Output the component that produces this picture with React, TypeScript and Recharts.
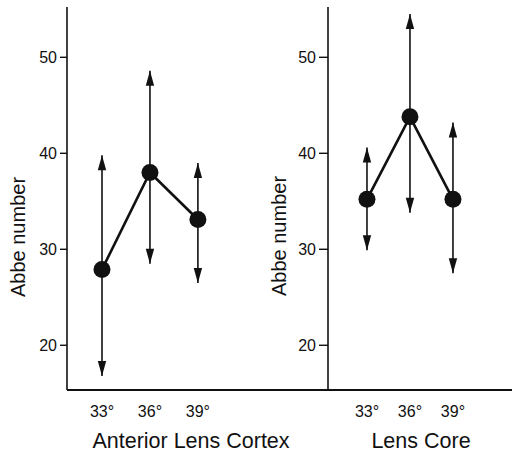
import { ErrorBar, Line, LineChart, XAxis, YAxis } from "recharts";

// Abbe number by angle, two lens regions
const degrees = [33, 36, 39];
const yTicks = [20, 30, 40, 50];

const cortexAbbe = [27.9, 38.0, 33.1];
const cortexHigh = [39.8, 48.6, 39.0];
const cortexLow = [16.8, 28.5, 26.5];

const coreAbbe = [35.2, 43.8, 35.2];
const coreHigh = [40.6, 54.5, 43.2];
const coreLow = [29.9, 33.8, 27.5];

const FONT = "'Liberation Sans', Arial, Helvetica, sans-serif";
const INK = "#111";
const Y_DOMAIN: [number, number] = [15.34, 55.24];

function buildRows(abbe: number[], high: number[], low: number[]) {
  return degrees.map((deg, i) => ({
    deg,
    abbe: abbe[i],
    high: high[i],
    low: low[i],
    err: [abbe[i] - low[i], high[i] - abbe[i]],
  }));
}

const cortexRows = buildRows(cortexAbbe, cortexHigh, cortexLow);
const coreRows = buildRows(coreAbbe, coreHigh, coreLow);

const ArrowUp = (props: any) => {
  const { cx, cy, index } = props;
  if (cx == null || cy == null) return <g key={`up-${index}`} />;
  return (
    <path
      key={`up-${index}`}
      d={`M${cx},${cy} L${cx - 4.2},${cy + 15} L${cx + 4.2},${cy + 15} Z`}
      fill={INK}
    />
  );
};

const ArrowDown = (props: any) => {
  const { cx, cy, index } = props;
  if (cx == null || cy == null) return <g key={`dn-${index}`} />;
  return (
    <path
      key={`dn-${index}`}
      d={`M${cx},${cy} L${cx - 4.2},${cy - 15} L${cx + 4.2},${cy - 15} Z`}
      fill={INK}
    />
  );
};

interface PanelProps {
  rows: ReturnType<typeof buildRows>;
  title: string;
  titleX: number;
  width: number;
  axisWidth: number;
  xDomain: [number, number];
  yLabelX: number;
  yLabelY: number;
  tickSize: number;
}

function Panel({
  rows,
  title,
  titleX,
  width,
  axisWidth,
  xDomain,
  yLabelX,
  yLabelY,
  tickSize,
}: PanelProps) {
  return (
    <LineChart
      width={width}
      height={455}
      data={rows}
      margin={{ top: 7, right: 0, bottom: 0, left: 0 }}
      style={{ fontFamily: FONT }}
    >
      <XAxis
        dataKey="deg"
        type="number"
        domain={xDomain}
        ticks={degrees}
        interval={0}
        allowDataOverflow
        tickFormatter={(d) => `${d}°`}
        tickLine={false}
        tickSize={0}
        tickMargin={16}
        height={65}
        axisLine={{ stroke: INK, strokeWidth: 2 }}
        tick={{ fill: INK, fontSize: 16 }}
        label={{
          content: () => (
            <text
              x={titleX}
              y={448}
              textAnchor="middle"
              fill={INK}
              fontSize={21.5}
              fontFamily={FONT}
            >
              {title}
            </text>
          ),
        }}
      />
      <YAxis
        type="number"
        domain={Y_DOMAIN}
        ticks={yTicks}
        interval={0}
        allowDataOverflow
        width={axisWidth}
        tickSize={tickSize}
        tickMargin={3}
        axisLine={{ stroke: INK, strokeWidth: 1.6 }}
        tickLine={{ stroke: INK, strokeWidth: 1.4 }}
        tick={{ fill: INK, fontSize: 16 }}
        label={{
          content: () => (
            <text
              x={yLabelX}
              y={yLabelY}
              transform={`rotate(-90 ${yLabelX} ${yLabelY})`}
              textAnchor="middle"
              dominantBaseline="central"
              fill={INK}
              fontSize={20}
              fontFamily={FONT}
            >
              Abbe number
            </text>
          ),
        }}
      />
      <Line
        dataKey="high"
        stroke="none"
        dot={ArrowUp}
        activeDot={false}
        isAnimationActive={false}
      />
      <Line
        dataKey="low"
        stroke="none"
        dot={ArrowDown}
        activeDot={false}
        isAnimationActive={false}
      />
      <Line
        dataKey="abbe"
        type="linear"
        stroke={INK}
        strokeWidth={2.6}
        dot={{ r: 8.5, fill: INK, stroke: INK, strokeWidth: 0 }}
        activeDot={false}
        isAnimationActive={false}
      >
        <ErrorBar
          dataKey="err"
          direction="y"
          width={0}
          stroke={INK}
          strokeWidth={1.6}
          isAnimationActive={false}
        />
      </Line>
    </LineChart>
  );
}

export default function App() {
  return (
    <div
      style={{
        position: "fixed",
        left: 0,
        top: 0,
        width: 512,
        height: 455,
        background: "#fff",
      }}
    >
      <div style={{ position: "absolute", left: 0, top: 0 }}>
        <Panel
          rows={cortexRows}
          title="Anterior Lens Cortex"
          titleX={191}
          width={328}
          axisWidth={67}
          xDomain={[30.81, 47.14]}
          yLabelX={18}
          yLabelY={237}
          tickSize={7}
        />
      </div>
      <div style={{ position: "absolute", left: 246, top: 0 }}>
        <Panel
          rows={coreRows}
          title="Lens Core"
          titleX={175}
          width={266}
          axisWidth={82}
          xDomain={[30.28, 43.12]}
          yLabelX={33}
          yLabelY={236}
          tickSize={9}
        />
      </div>
    </div>
  );
}
